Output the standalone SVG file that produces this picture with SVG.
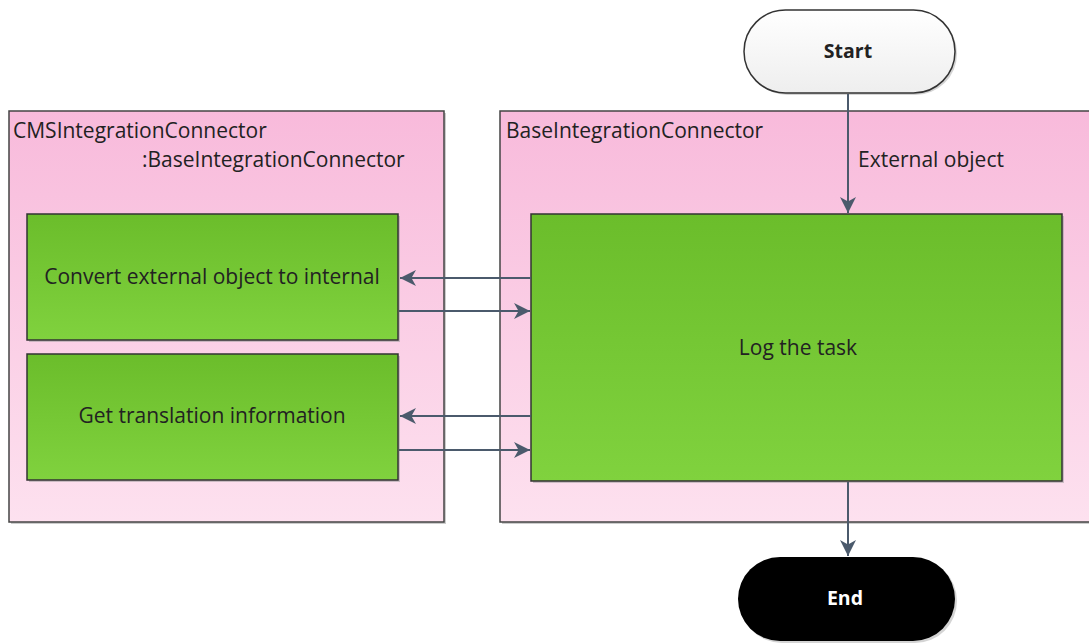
<svg xmlns="http://www.w3.org/2000/svg" width="1089" height="643" viewBox="0 0 1089 643">
<defs>
<linearGradient id="pink" x1="0" y1="0" x2="0" y2="1"><stop offset="0" stop-color="#f8badb"/><stop offset="1" stop-color="#fde1ef"/></linearGradient>
<linearGradient id="green" x1="0" y1="0" x2="0" y2="1"><stop offset="0" stop-color="#6bbd2b"/><stop offset="1" stop-color="#80d23e"/></linearGradient>
<linearGradient id="white" x1="0" y1="0" x2="0" y2="1"><stop offset="0" stop-color="#ffffff"/><stop offset="1" stop-color="#eeeeee"/></linearGradient>
<marker id="arrB" viewBox="0 0 14 14" refX="14" refY="7" markerWidth="16" markerHeight="16" markerUnits="userSpaceOnUse" orient="auto"><path d="M0,0 L14,7 L0,14 L4,7 Z" fill="#4b5a6c"/></marker>
</defs>
<style>
.cont{fill:url(#pink);stroke:#444;stroke-width:1.5}
.box{fill:url(#green);stroke:#333;stroke-width:1.5}
.sh{fill:#999;opacity:0.5}
.t{font-family:"Open Sans","Noto Sans",sans-serif;font-size:21px;fill:#222}
.c{text-anchor:middle}
.b{font-weight:bold;font-size:19.5px}
.ln{stroke:#4b5a6c;stroke-width:2;fill:none}
</style>
<g id="cms-container">
<rect class="sh" x="11" y="113" width="435" height="411"/>
<rect class="cont" x="9" y="111" width="435" height="411"/>
<text class="t" x="13" y="138">CMSIntegrationConnector</text>
<text class="t" x="142" y="167">:BaseIntegrationConnector</text>
</g>
<g id="base-container">
<rect class="sh" x="502" y="113" width="600" height="411"/>
<rect class="cont" x="500" y="111" width="600" height="411"/>
<text class="t" x="506" y="138">BaseIntegrationConnector</text>
</g>
<g id="convert">
<rect class="sh" x="29" y="216" width="371" height="126"/>
<rect class="box" x="27" y="214" width="371" height="126"/>
<text class="t c" x="212" y="284">Convert external object to internal</text>
</g>
<g id="translation">
<rect class="sh" x="29" y="356" width="371" height="126"/>
<rect class="box" x="27" y="354" width="371" height="126"/>
<text class="t c" x="212" y="423">Get translation information</text>
</g>
<g id="log">
<rect class="sh" x="533" y="216" width="531" height="267"/>
<rect class="box" x="531" y="214" width="531" height="267"/>
<text class="t c" x="798" y="355">Log the task</text>
</g>
<g id="start">
<rect x="746" y="12" width="211" height="83" rx="41.5" fill="#aaa" opacity="0.5"/>
<rect x="744" y="10" width="211" height="83" rx="41.5" fill="url(#white)" stroke="#333" stroke-width="1.5"/>
<text class="t c b" x="848" y="58">Start</text>
</g>
<g id="end">
<rect x="740" y="559" width="217" height="84" rx="42" fill="#aaa" opacity="0.5"/>
<rect x="738" y="557" width="217" height="84" rx="42" fill="#000"/>
<text class="t c b" x="845" y="605" style="fill:#fff">End</text>
</g>
<g id="connectors">
<line class="ln" x1="848" y1="94" x2="848" y2="213" marker-end="url(#arrB)"/>
<text class="t" x="858" y="167">External object</text>
<line class="ln" x1="531" y1="278" x2="400" y2="278" marker-end="url(#arrB)"/>
<line class="ln" x1="399" y1="311" x2="530" y2="311" marker-end="url(#arrB)"/>
<line class="ln" x1="531" y1="416" x2="400" y2="416" marker-end="url(#arrB)"/>
<line class="ln" x1="399" y1="450" x2="530" y2="450" marker-end="url(#arrB)"/>
<line class="ln" x1="848" y1="482" x2="848" y2="556" marker-end="url(#arrB)"/>
</g>
</svg>
